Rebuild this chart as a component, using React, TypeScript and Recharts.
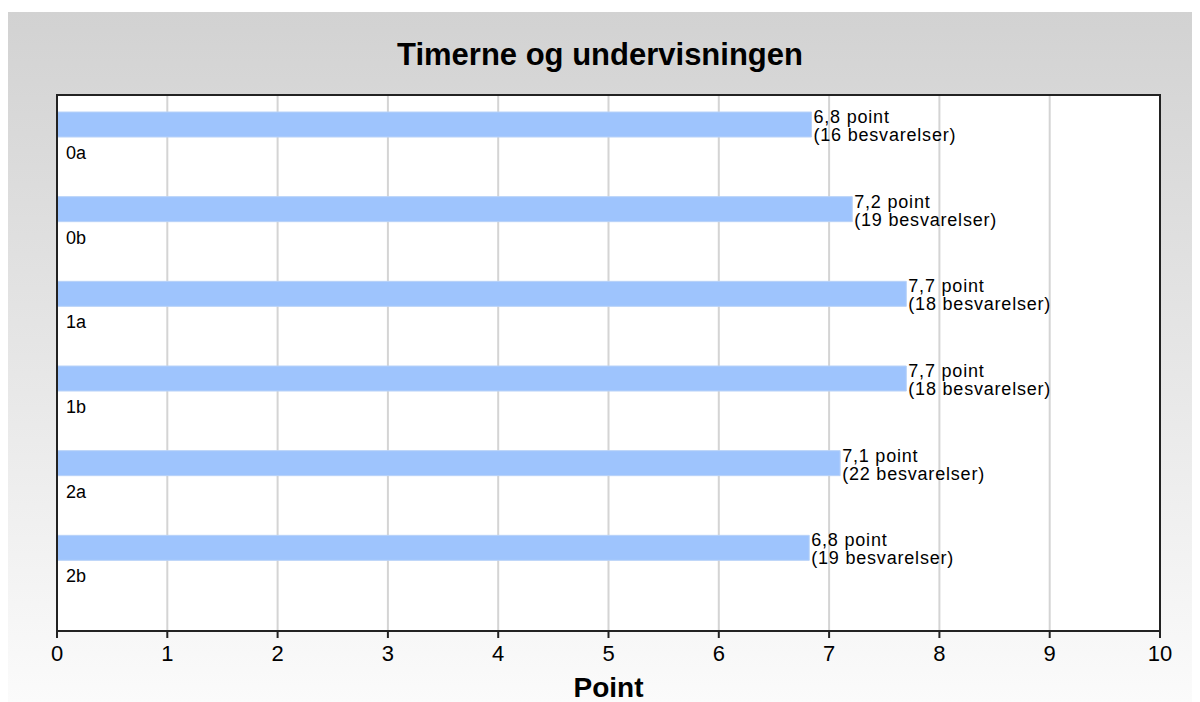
import React from "react";
import {
  BarChart,
  Bar,
  XAxis,
  YAxis,
  CartesianGrid,
  LabelList,
} from "recharts";

const categories = ["0a", "0b", "1a", "1b", "2a", "2b"];
// bar lengths; labels show them rounded to one decimal
const points = [6.84, 7.21, 7.7, 7.7, 7.1, 6.82];
const responses = [16, 19, 18, 18, 22, 19];
const xTicks = [0, 1, 2, 3, 4, 5, 6, 7, 8, 9, 10];

const data = categories.map((name, i) => ({
  name,
  point: points[i],
  n: responses[i],
}));

const FONT = "'Liberation Sans', Arial, sans-serif";

const ValueLabel = (props: any) => {
  const { x, y, width, index } = props;
  const d = data[index];
  const lx = x + width + 2;
  return (
    <text x={lx} y={y} fontFamily={FONT} fontSize={18} fill="#000" letterSpacing={0.8}>
      <tspan x={lx} dy={11}>{d.point.toFixed(1).replace(".", ",") + " point"}</tspan>
      <tspan x={lx} dy={18}>{"(" + d.n + " besvarelser)"}</tspan>
    </text>
  );
};

const NameLabel = (props: any) => {
  const { x, y, height, value } = props;
  return (
    <text x={x + 9} y={y + height + 22} fontFamily={FONT} fontSize={18} fill="#000">
      {value}
    </text>
  );
};

const AxisTitle = (props: any) => {
  const vb = props.viewBox;
  return (
    <text
      x={vb.x + vb.width / 2}
      y={vb.y + 66}
      textAnchor="middle"
      fontFamily={FONT}
      fontSize={28}
      fontWeight="bold"
      fill="#000"
    >
      Point
    </text>
  );
};

export default function App() {
  return (
    <div
      style={{
        position: "relative",
        marginTop: 4,
        width: 1192,
        height: 690,
        background: "linear-gradient(to bottom, #d2d2d2 0%, #e8e8e8 55%, #fbfbfb 100%)",
        fontFamily: FONT,
      }}
    >
      <div
        style={{
          position: "absolute",
          left: 0,
          top: 25,
          width: 1184,
          textAlign: "center",
          fontSize: 31,
          fontWeight: "bold",
          color: "#000",
        }}
      >
        Timerne og undervisningen
      </div>
      <BarChart
        width={1192}
        height={690}
        data={data}
        layout="vertical"
        margin={{ top: 83, right: 40, bottom: 1, left: 49 }}
        style={{ position: "absolute", left: 0, top: 0 }}
      >
        <CartesianGrid horizontal={false} stroke="#d4d4d4" strokeWidth={2} fill="#fff" />
        <XAxis
          type="number"
          domain={[0, 10]}
          ticks={xTicks}
          interval={0}
          height={70}
          axisLine={{ stroke: "#222", strokeWidth: 2 }}
          tickLine={{ stroke: "#222", strokeWidth: 2 }}
          tickSize={7}
          tickMargin={7}
          tick={{ fill: "#000", fontSize: 22, fontFamily: FONT }}
          label={<AxisTitle />}
        />
        <YAxis
          type="category"
          dataKey="name"
          hide
          padding={{ top: -13, bottom: 41 }}
        />
        <Bar
          dataKey="point"
          fill="#9ec4fd"
          stroke="#b8d2f8"
          strokeWidth={1}
          barSize={25}
          isAnimationActive={false}
        >
          <LabelList dataKey="point" content={ValueLabel} />
          <LabelList dataKey="name" content={NameLabel} />
        </Bar>
      </BarChart>
      <div
        style={{
          position: "absolute",
          left: 48,
          top: 82,
          width: 1101,
          height: 534,
          border: "2px solid #222",
          pointerEvents: "none",
        }}
      />
    </div>
  );
}
